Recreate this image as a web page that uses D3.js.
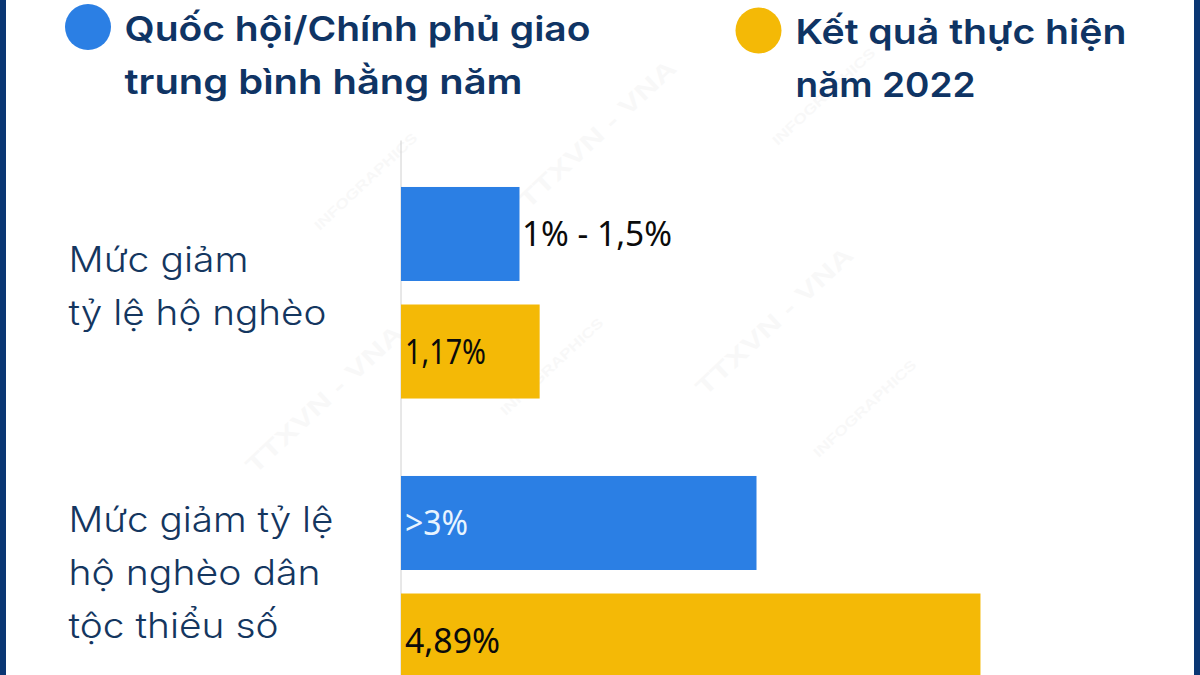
<!DOCTYPE html>
<html>
<head>
<meta charset="utf-8">
<script src="https://cdn.jsdelivr.net/npm/d3@7"></script>
<style>
  html, body { margin: 0; padding: 0; background: #fff; }
  svg { display: block; }
  .legend text { font-family: Inter, "Noto Sans", sans-serif; font-size: 34px; font-weight: 600; fill: #0f3464; }
  .cat text { font-family: Inter, "Noto Sans", sans-serif; font-size: 35px; font-weight: 300; fill: #14365f; }
  .val { font-family: "Noto Sans", sans-serif; font-size: 34px; }
  .wm { font-family: "Liberation Sans", sans-serif; font-weight: 700; fill: #000; opacity: 0.025; }
</style>
</head>
<body>
<svg id="chart" width="1200" height="675"></svg>
<script>
const categories = ["poverty", "ethnic"];
const categoryLines = [["Mức giảm", "tỷ lệ hộ nghèo"], ["Mức giảm tỷ lệ", "hộ nghèo dân", "tộc thiểu số"]];
const seriesNames = ["assigned", "actual"];
const assignedValues = [1, 3];
const actualValues = [1.17, 4.89];
const assignedLabels = ["1% - 1,5%", ">3%"];
const actualLabels = ["1,17%", "4,89%"];
const legendLines = [["Quốc hội/Chính phủ giao", "trung bình hằng năm"], ["Kết quả thực hiện", "năm 2022"]];
const colors = ["#2b7fe4", "#f4b906"];

const svg = d3.select("#chart");

// frame on both sides
svg.append("rect").attr("width", 6).attr("height", 675).attr("fill", "#0a3673");
svg.append("rect").attr("x", 1194).attr("width", 6).attr("height", 675).attr("fill", "#0a3673");

// watermark
const marks = [
  ["INFOGRAPHICS", 369, 185, 14, 135], ["INFOGRAPHICS", 555, 370, 14, 135], ["INFOGRAPHICS", 827, 100, 14, 135],
  ["INFOGRAPHICS", 868, 412, 14, 135], ["TTXVN - VNA", 603, 140, 24, 205], ["TTXVN - VNA", 330, 405, 24, 205],
  ["TTXVN - VNA", 780, 327, 24, 205]
];
marks.forEach(m => {
  svg.append("text").attr("class", "wm")
    .attr("text-anchor", "middle")
    .attr("font-size", m[3])
    .attr("textLength", m[4])
    .attr("lengthAdjust", "spacingAndGlyphs")
    .attr("transform", `translate(${m[1]},${m[2]}) rotate(-43)`)
    .text(m[0]);
});

const x = d3.scaleLinear().domain([0, 1]).range([401, 519.5]);
const y0 = d3.scaleBand().domain(categories).range([148.25, 726.25]).paddingInner(0.268).paddingOuter(0.134);
const y1 = d3.scaleBand().domain(seriesNames).range([0, y0.bandwidth()]).paddingInner(0.2);

// vertical axis line, no ticks
const axis = d3.axisLeft(d3.scaleLinear().domain([0, 1]).range([140, 675])).ticks(0).tickSize(0);
svg.append("g").attr("transform", "translate(400.5,0)").call(axis)
  .select(".domain").attr("stroke", "#d0d0d0").attr("stroke-width", 1);

const rows = categories.flatMap((c, i) => [
  { c, s: "assigned", v: assignedValues[i], label: assignedLabels[i], color: colors[0] },
  { c, s: "actual", v: actualValues[i], label: actualLabels[i], color: colors[1] }
]);

svg.append("g").selectAll("rect").data(rows).join("rect")
  .attr("x", x(0))
  .attr("y", d => y0(d.c) + y1(d.s))
  .attr("width", d => x(d.v) - x(0))
  .attr("height", y1.bandwidth())
  .attr("fill", d => d.color);

// the first label sits outside its bar, the rest inside
const valWidths = { "1% - 1,5%": 150, ">3%": 63, "1,17%": 81, "4,89%": 95 };
svg.append("g").selectAll("text").data(rows).join("text")
  .attr("class", "val")
  .attr("x", (d, i) => i === 0 ? x(d.v) + 2.5 : x(0) + 4)
  .attr("y", d => y0(d.c) + y1(d.s) + y1.bandwidth() / 2 + 12)
  .attr("textLength", d => valWidths[d.label])
  .attr("lengthAdjust", "spacingAndGlyphs")
  .attr("fill", d => d.label === ">3%" ? "#e8f4ff" : "#0b0b0b")
  .text(d => d.label);

// category labels, stretched to the reference line widths
const catBaselines = [272, 532];
const catWidths = [[180, 258], [265, 252, 210]];
const cat = svg.append("g").attr("class", "cat");
categoryLines.forEach((lines, i) => {
  lines.forEach((t, j) => {
    cat.append("text").attr("x", 68.5).attr("y", catBaselines[i] + j * 53)
      .attr("textLength", catWidths[i][j]).attr("lengthAdjust", "spacingAndGlyphs").text(t);
  });
});

// legend
const legendPos = [{ cx: 88, cy: 27, tx: 124.5, ty: 41 }, { cx: 758.5, cy: 30.5, tx: 795.5, ty: 44 }];
const legendWidths = [[466, 398], [331, 180]];
const legend = svg.append("g").attr("class", "legend");
legendLines.forEach((lines, i) => {
  const p = legendPos[i];
  legend.append("circle").attr("cx", p.cx).attr("cy", p.cy).attr("r", 23).attr("fill", colors[i]);
  lines.forEach((t, j) => {
    legend.append("text").attr("x", p.tx).attr("y", p.ty + j * 53)
      .attr("textLength", legendWidths[i][j]).attr("lengthAdjust", "spacingAndGlyphs").text(t);
  });
});
</script>
</body>
</html>
